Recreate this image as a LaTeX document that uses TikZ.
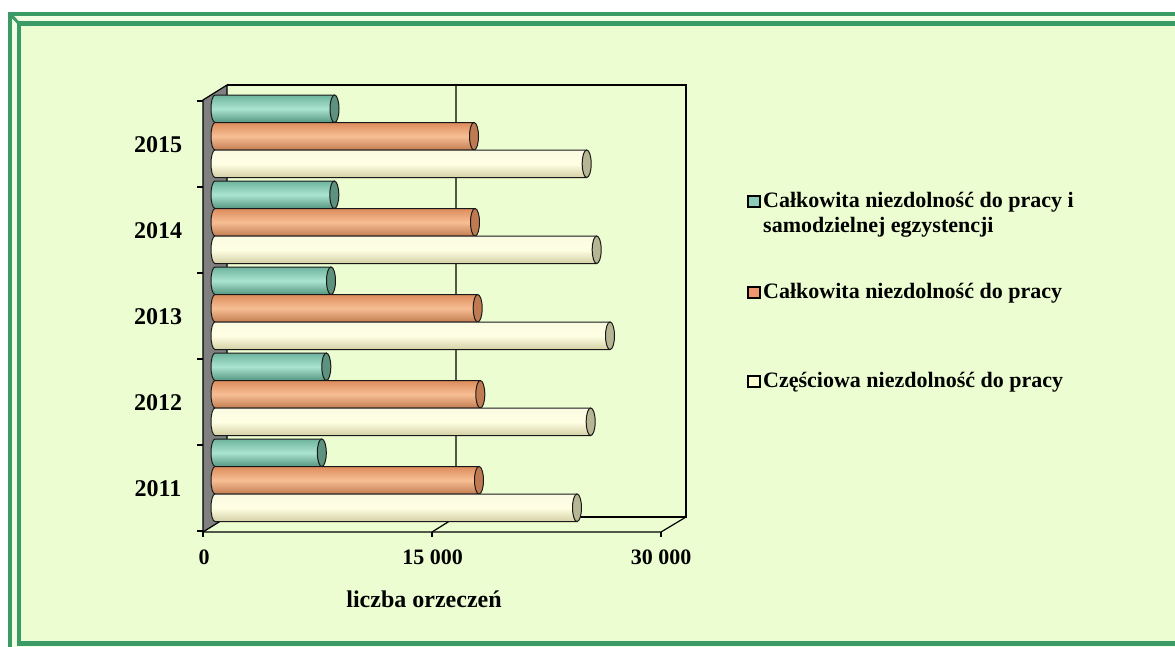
\documentclass[tikz,border=0pt]{standalone}
\usepackage{fontspec}
\setmainfont{Liberation Serif}
\definecolor{frgreen}{RGB}{58,155,103}
\definecolor{frpale}{RGB}{243,255,226}
\definecolor{bgc}{RGB}{236,253,209}
\definecolor{walgray}{RGB}{128,128,128}
\definecolor{gtop}{RGB}{110,180,158}
\definecolor{gmid}{RGB}{170,228,208}
\definecolor{gbot}{RGB}{85,150,128}
\definecolor{gcap}{RGB}{92,146,126}
\definecolor{otop}{RGB}{220,140,92}
\definecolor{omid}{RGB}{247,190,148}
\definecolor{obot}{RGB}{195,125,82}
\definecolor{ocap}{RGB}{192,122,82}
\definecolor{ctop}{RGB}{250,250,226}
\definecolor{cmid}{RGB}{255,255,228}
\definecolor{cbot}{RGB}{212,208,165}
\definecolor{ccap}{RGB}{182,182,148}
\definecolor{lgg}{RGB}{140,205,185}
\definecolor{lgo}{RGB}{240,150,110}
\definecolor{lgc}{RGB}{255,255,210}
\tikzset{
  axisline/.style={black, line width=1.2pt},
  barline/.style={draw=black!90, line width=1pt},
  yearlab/.style={font=\fontsize{24}{28}\selectfont\bfseries, inner sep=0pt},
  ticklab/.style={font=\fontsize{22}{26}\selectfont\bfseries, inner sep=0pt},
  leglab/.style={font=\fontsize{22}{26}\selectfont\bfseries, inner sep=0pt, anchor=base west},
  legmark/.style={draw=black, line width=1.3pt}
}
% #1 right cap x, #2 top y, #3 colour prefix
\newcommand{\barcyl}[3]{%
  \path[barline, top color=#3top, bottom color=#3bot, middle color=#3mid]
    (#1,#2) -- (215,#2) arc[start angle=270, end angle=90, x radius=4, y radius=13.75]
    -- (#1,#2+27.5) -- cycle;
  \draw[barline, fill=#3cap] (#1,#2+13.75) ellipse[x radius=4.5, y radius=13.75];
}
\begin{document}
\begin{tikzpicture}[x=1pt,y=-1pt]
\useasboundingbox (0,0) rectangle (1175,646);
\clip (0,0) rectangle (1175,646);
\fill[white] (0,0) rectangle (1175,646);
% frame
\filldraw[draw=frgreen, line width=4.3pt, fill=frpale] (10,14.3) rectangle (1195,662);
\filldraw[draw=frgreen, line width=4.5pt, fill=bgc] (19,23.4) rectangle (1184,643.7);
\draw[frgreen, line width=3pt] (10,14.3) -- (19,23.4);
% back wall and floor
\draw[axisline] (227,85) -- (686,85) -- (686,517) -- (227,517);
\draw[axisline] (456,85) -- (456,517) -- (432,532);
\draw[axisline] (203,532) -- (661,532) -- (686,517);
% left wall
\filldraw[axisline, fill=walgray] (203,100) -- (227,85) -- (227,517) -- (203,532) -- cycle;
\foreach \yy in {101,187,273,359,445,531} \draw[axisline] (197,\yy) -- (203,\yy);
\foreach \xx in {203,432,661} \draw[axisline] (\xx,532) -- (\xx,537);
% bars: category k, bottom yb = 521.5 - 86k
% 2015
\barcyl{334.5}{95}{g}
\barcyl{474}{122.5}{o}
\barcyl{586.7}{150}{c}
% 2014
\barcyl{334.3}{181}{g}
\barcyl{475}{208.5}{o}
\barcyl{596.7}{236}{c}
% 2013
\barcyl{331}{267}{g}
\barcyl{477.7}{294.5}{o}
\barcyl{610}{322}{c}
% 2012
\barcyl{326.3}{353}{g}
\barcyl{480.3}{380.5}{o}
\barcyl{590.7}{408}{c}
% 2011
\barcyl{321.8}{439}{g}
\barcyl{479}{466.5}{o}
\barcyl{577}{494}{c}
% year labels
\node[yearlab] (y2015) at (158,144.5) {2015};
\node[yearlab] (y2014) at (158,230.5) {2014};
\node[yearlab] (y2013) at (158,316.5) {2013};
\node[yearlab] (y2012) at (158,402.5) {2012};
\node[yearlab] (y2011) at (158,488.5) {2011};
% x tick labels
\node[ticklab] (t0) at (204,557.5) {0};
\node[ticklab] (t15) at (432.5,557.5) {15 000};
\node[ticklab] (t30) at (661,557.5) {30 000};
\node[yearlab] (xtitle) at (424,599) {liczba orzeczeń};
% legend
\filldraw[legmark, fill=lgg] (748,196) rectangle (760,207);
\node[leglab] (l1a) at (763,207) {Całkowita niezdolność do pracy i};
\node[leglab] (l1b) at (763,232) {samodzielnej egzystencji};
\filldraw[legmark, fill=lgo] (748,287) rectangle (760,298);
\node[leglab] (l2) at (763,298) {Całkowita niezdolność do pracy};
\filldraw[legmark, fill=lgc] (748,376) rectangle (760,387);
\node[leglab] (l3) at (763,387) {Częściowa niezdolność do pracy};
\end{tikzpicture}
\end{document}
